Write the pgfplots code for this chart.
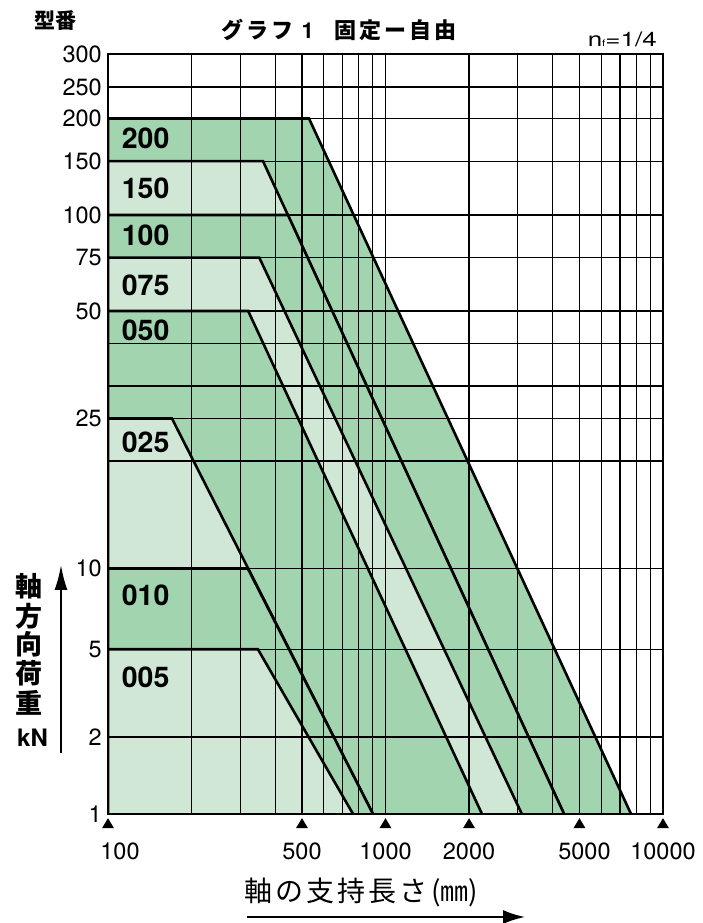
\documentclass[border=0pt]{standalone}
\usepackage{pgfplots}
\pgfplotsset{compat=1.18}
\usetikzlibrary{arrows.meta}
\usepackage{fontspec}
\setmainfont{TeX Gyre Heros}
\newfontfamily\cjk{Noto Sans CJK JP}
\definecolor{dk}{HTML}{A2D4B0}
\definecolor{lt}{HTML}{CFE7D4}
\newdimen\ytrd
\makeatletter
\def\ytrseg#1#2#3{\advance\ytrd by -#1pt\relax\ytrd=#3\ytrd\advance\ytrd by #2pt\relax\edef\pgfmathresult{\strip@pt\ytrd}}
\def\ytr#1{\pgfmathfloatparsenumber{#1}\pgfmathfloattofixed{\pgfmathresult}\ytrd=\pgfmathresult pt\relax
 \ifdim\ytrd<2pt \ytrseg{1}{0}{77}\else
 \ifdim\ytrd<5pt \ytrseg{2}{77}{29.233}\else
 \ifdim\ytrd<10pt \ytrseg{5}{164.7}{16.16}\else
 \ifdim\ytrd<20pt \ytrseg{10}{245.5}{10.75}\else
 \ifdim\ytrd<25pt \ytrseg{20}{353}{8.5}\else
 \ifdim\ytrd<30pt \ytrseg{25}{395.5}{6.5}\else
 \ifdim\ytrd<40pt \ytrseg{30}{428}{4.23}\else
 \ifdim\ytrd<50pt \ytrseg{40}{470.3}{3.27}\else
 \ifdim\ytrd<75pt \ytrseg{50}{503}{2.132}\else
 \ifdim\ytrd<100pt \ytrseg{75}{556.3}{1.708}\else
 \ifdim\ytrd<150pt \ytrseg{100}{599}{1.076}\else
 \ifdim\ytrd<200pt \ytrseg{150}{652.8}{0.854}\else
 \ifdim\ytrd<250pt \ytrseg{200}{695.5}{0.63}\else
 \ytrseg{250}{727}{0.66}%
 \fi\fi\fi\fi\fi\fi\fi\fi\fi\fi\fi\fi\fi}
\makeatother
\newcommand\tl{\fontsize{23.5}{23.5}\selectfont}
\newcommand\bl{\fontsize{28.5}{28.5}\selectfont\bfseries}
\newcommand\tri{\tikz\fill[black] (0pt,0pt)--(12pt,0pt)--(6pt,10pt)--cycle;}
\newcommand\cb[2]{\makebox[#1pt]{#2}}
\begin{document}
\begin{tikzpicture}
\useasboundingbox (-108pt,-109pt) rectangle (594pt,814pt);
\begin{axis}[
  at={(0pt,0pt)}, anchor=south west,
  scale only axis, width=555pt, height=760pt,
  xmode=log, xmin=100, xmax=10000,
  ymin=1, ymax=300,
  y coord trafo/.code={\ytr{#1}},
  xtick={100,500,1000,2000,5000,10000},
  xticklabels={\hspace{24pt}100,500,1000,2000,\hspace{10pt}5000,10000\hspace{20pt}},
  minor xtick={200,300,400,600,700,800,900,3000,4000,6000,7000,8000,9000},
  extra x ticks={100,500,1000,2000,5000,10000},
  extra x tick labels={\tri,\tri,\tri,\tri,\tri,\tri},
  extra x tick style={grid=none, xticklabel style={yshift=25pt}},
  ytick={1,2,5,10,25,50,75,100,150,200,250,300},
  yticklabels={1,2,5,10,25,50,75,100,150,200,250,300},
  minor ytick={20,30,40},
  grid=both,
  major grid style={black, line width=1.1pt},
  minor grid style={black, line width=1.1pt},
  major tick length=0pt, minor tick length=0pt,
  axis line style={line width=2.8pt},
  axis on top,
  xticklabel style={font=\tl, inner sep=0pt, anchor=north, yshift=-29pt},
  yticklabel style={font=\tl, inner sep=0pt, anchor=east, xshift=-6pt},
]
\addplot[fill=dk, draw=black, line width=2.6pt] coordinates {(100,1) (100,200) (530,200) (7670,1)};
\addplot[fill=lt, draw=black, line width=2.6pt] coordinates {(100,1) (100,150) (362,150) (4400,1)};
\addplot[fill=dk, draw=black, line width=2.6pt] coordinates {(100,1) (100,100) (445,100) (4400,1)};
\addplot[fill=lt, draw=black, line width=2.6pt] coordinates {(100,1) (100,75) (351,75) (3100,1)};
\addplot[fill=dk, draw=black, line width=2.6pt] coordinates {(100,1) (100,50) (320,50) (2227,1)};
\addplot[fill=lt, draw=black, line width=2.6pt] coordinates {(100,1) (100,25) (170,25) (901,1)};
\addplot[fill=dk, draw=black, line width=2.6pt] coordinates {(100,1) (100,10) (319,10) (901,1)};
\addplot[fill=lt, draw=black, line width=2.6pt] coordinates {(100,1) (100,5) (347,5) (764,1)};
\end{axis}
% band labels
\foreach \t/\y in {200/676,150/626,100/579,075/529,050/484,025/372,010/219,005/137}
  \node[anchor=west, inner sep=0pt, font=\bl] at (13.7pt,\y pt) {\t};
% top texts
\node[font=\cjk\bfseries\fontsize{21}{21}\selectfont, inner sep=0pt] at (-52pt,793pt) {型番};
\node[anchor=west, inner sep=0pt, font=\cjk\bfseries\fontsize{22}{22}\selectfont] at (112pt,784.5pt)
  {\cb{25}{グ}\cb{25}{ラ}\cb{25}{フ}\cb{25}{\fontspec{TeX Gyre Heros}\bfseries\fontsize{22}{22}\selectfont 1}\hspace{13pt}\cb{25}{固}\cb{25}{定}\cb{25}{ー}\cb{25}{自}\cb{25}{由}};
\node[anchor=base east, inner sep=0pt, font=\fontsize{20}{20}\selectfont] at (549pt,767pt)
  {\scalebox{1.3}[1]{n{\fontsize{9}{9}\selectfont f}=1/4}};
% y label
\foreach \c/\y in {軸/228,方/198,向/170,荷/141,重/111}
  \node[inner sep=0pt, font=\cjk\bfseries\fontsize{27}{27}\selectfont] at (-79pt,\y pt) {\c};
\node[inner sep=0pt, font=\bfseries\fontsize{24}{24}\selectfont] at (-75.5pt,76pt) {kN};
\draw[line width=2pt, -{Latex[length=25pt,width=13pt]}] (-47pt,61pt) -- (-47pt,249pt);
% x label
\node[anchor=west, inner sep=0pt, font=\cjk\fontsize{28}{28}\selectfont] at (135pt,-78.5pt)
  {\cb{31}{軸}\cb{31}{の}\cb{31}{支}\cb{31}{持}\cb{31}{長}\cb{31}{さ}\hspace{2pt}(㎜)};
\draw[line width=2pt, -{Latex[length=22pt,width=14pt]}] (139pt,-103pt) -- (417pt,-103pt);
\end{tikzpicture}
\end{document}
